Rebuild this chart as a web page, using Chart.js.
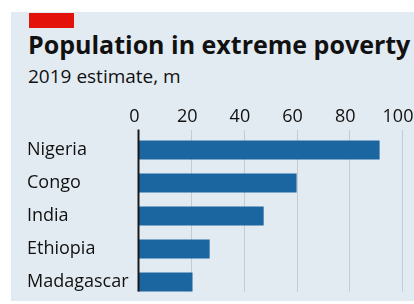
<!DOCTYPE html>
<html>
<head>
<meta charset="utf-8">
<title>population in extreme poverty</title>
<script src="https://cdn.jsdelivr.net/npm/chart.js@4.4.1/dist/chart.umd.min.js"></script>
<style>
  html, body { margin: 0; padding: 0; background: #ffffff; }
  #marco { position: absolute; left: 11px; top: 12px; width: 403px; height: 289px; background: #e3ebf2; }
  #marca { position: absolute; left: 29px; top: 13px; width: 45px; height: 15px; background: #e3120b; }
  #titulo { position: absolute; left: 28px; top: 32px; font: 700 25px/1 "Open Sans"; color: #111111; white-space: nowrap; }
  #subtitulo { position: absolute; left: 28px; top: 67px; font: 400 19px/1 "Open Sans"; color: #111111; white-space: nowrap; }
  #caja { position: absolute; left: 0; top: 0; width: 414px; height: 304px; }
</style>
</head>
<body>
<div id="marco"></div>
<div id="marca"></div>
<div id="titulo">Population in extreme poverty</div>
<div id="subtitulo">2019 estimate, m</div>
<div id="caja"><canvas id="grafico" width="414" height="304"></canvas></div>
<script>
"use strict";
/* barras horizontales - pobreza extrema 2019 */

var paises = ["Nigeria", "Congo", "India", "Ethiopia", "Madagascar"];
var millones = [91.5, 60, 47.5, 27, 20.5];
var marcasEje = [0, 20, 40, 60, 80, 100];

(function () {

  var colorTexto = "#111111";
  var fuente = "'Open Sans', sans-serif";

  // lineas de la rejilla: desde encima de la primera barra hasta el pie de la ultima
  var rejilla = {
    id: "rejilla",
    beforeDatasetsDraw: function (chart) {
      var ctx = chart.ctx;
      var ejeX = chart.scales.x;
      var meta = chart.getDatasetMeta(0);
      var ultima = meta.data[meta.data.length - 1];
      var arriba = chart.chartArea.top - 3.5;
      var abajo = ultima.y + ultima.height / 2;
      ctx.save();
      ctx.strokeStyle = "#c3cbd3";
      ctx.lineWidth = 1;
      marcasEje.forEach(function (v) {
        if (v === 0) { return; }
        var x = Math.round(ejeX.getPixelForValue(v)) + 0.5;
        ctx.beginPath();
        ctx.moveTo(x, arriba);
        ctx.lineTo(x, abajo);
        ctx.stroke();
      });
      ctx.restore();
    },
    afterDatasetsDraw: function (chart) {
      var ctx = chart.ctx;
      var ejeX = chart.scales.x;
      var meta = chart.getDatasetMeta(0);
      var ultima = meta.data[meta.data.length - 1];
      var x = ejeX.getPixelForValue(0);
      ctx.save();
      ctx.strokeStyle = "#1a1a1a";
      ctx.lineWidth = 2;
      ctx.beginPath();
      ctx.moveTo(x, chart.chartArea.top - 4);
      ctx.lineTo(x, ultima.y + ultima.height / 2);
      ctx.stroke();
      ctx.restore();
    }
  };

  new Chart(document.getElementById("grafico"), {
    type: "bar",
    data: {
      labels: paises,
      datasets: [{
        data: millones,
        backgroundColor: "#1b65a1",
        borderWidth: 0,
        barPercentage: 0.58,
        categoryPercentage: 1
      }]
    },
    options: {
      indexAxis: "y",
      responsive: false,
      animation: false,
      events: [],
      layout: { padding: { left: 27, right: 12, top: 100, bottom: 5.5 } },
      plugins: { legend: { display: false }, tooltip: { enabled: false } },
      scales: {
        x: {
          position: "top",
          min: 0,
          max: 100,
          afterBuildTicks: function (eje) {
            eje.ticks = marcasEje.map(function (v) { return { value: v }; });
          },
          afterFit: function (eje) {
            eje.height = 33.5;
            eje.paddingLeft = 0;
            eje.paddingRight = 0;
          },
          grid: { display: false, drawTicks: false },
          border: { display: false },
          ticks: {
            color: colorTexto,
            font: { family: fuente, size: 18 },
            padding: 6,
            labelOffset: -4,
            maxRotation: 0,
            autoSkip: false
          }
        },
        y: {
          afterFit: function (eje) {
            eje.width = 111.5;
            eje.paddingTop = 0;
            eje.paddingBottom = 0;
          },
          grid: { display: false, drawTicks: false },
          border: { display: false },
          ticks: {
            color: colorTexto,
            font: { family: fuente, size: 18 },
            crossAlign: "far",
            padding: 4
          }
        }
      }
    },
    plugins: [rejilla]
  });

})();
</script>
</body>
</html>
